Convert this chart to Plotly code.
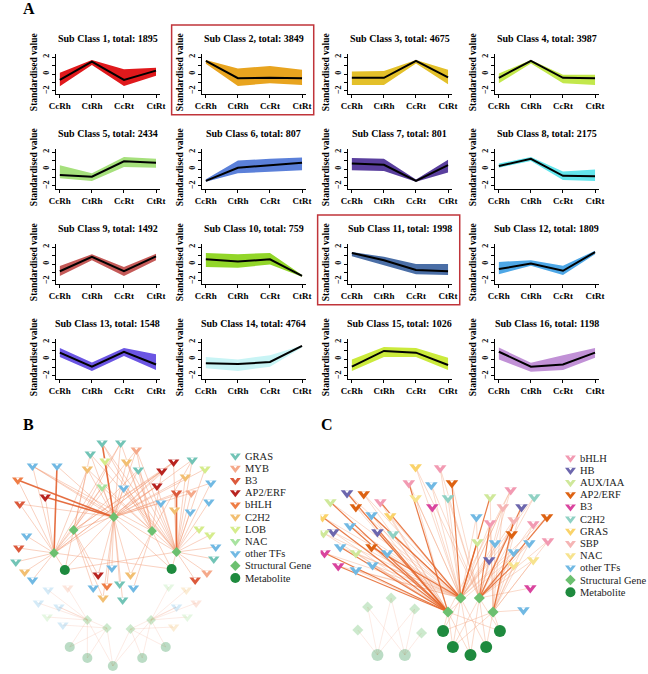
import plotly.graph_objects as go

# ======================= Panel A data =======================
stages = ["CcRh", "CtRh", "CcRt", "CtRt"]
class_totals = [1895, 3849, 4675, 3987, 2434, 807, 801, 2175,
                1492, 759, 1998, 1809, 1548, 4764, 1026, 1198]
class_colors = ["#e0191c", "#e8a41f", "#e3c02a", "#c3e84c",
                "#a6e07c", "#5b80d9", "#5a3f9e", "#63e5ec",
                "#c55a58", "#92d629", "#4a6ea6", "#4ea7e6",
                "#6b55e3", "#c8f4f5", "#cbea3c", "#c191d6"]
class_mean = [
    [-0.7, 1.45, -0.7, 0.4], [1.55, -0.5, -0.45, -0.5], [-0.45, -0.45, 1.55, -0.4], [-0.45, 1.55, -0.45, -0.5],
    [-0.7, -0.9, 0.9, 0.75], [-1.4, 0.15, 0.45, 0.75], [0.65, 0.5, -1.4, 0.45], [0.35, 1.2, -0.8, -0.85],
    [-0.85, 0.85, -0.85, 0.9], [0.55, 0.3, 0.55, -1.4], [1.3, 0.45, -0.7, -0.85], [-0.6, 0.05, -0.8, 1.4],
    [0.75, -0.9, 0.85, -0.65], [-0.5, -0.6, -0.35, 1.55], [-0.9, 0.95, 0.75, -0.7], [0.85, -0.9, -0.65, 0.75],
]
class_upper = [
    [0.15, 1.65, 0.55, 0.75], [1.65, 0.65, 0.95, 0.5], [0.3, 0.35, 1.65, 0.5], [0.05, 1.65, -0.1, -0.1],
    [0.45, -0.5, 1.4, 1.2], [-1.2, 1.0, 1.2, 1.35], [1.3, 1.2, -1.25, 1.1], [0.65, 1.4, -0.3, -0.05],
    [-0.25, 1.15, -0.35, 1.2], [1.3, 1.15, 1.3, -1.3], [1.4, 0.85, 0.0, 0.0], [0.25, 0.45, -0.2, 1.55],
    [1.3, -0.4, 1.3, 0.55], [0.25, -0.05, 0.45, 1.6], [-0.05, 1.4, 1.3, 0.15], [1.35, -0.45, 0.45, 1.3],
]
class_lower = [
    [-1.45, 1.05, -1.4, -0.2], [1.2, -1.4, -1.1, -1.3], [-1.3, -1.3, 1.25, -1.2], [-1.1, 1.25, -1.1, -1.3],
    [-1.1, -1.4, 0.25, 0.15], [-1.5, -0.5, -0.35, -0.15], [-0.15, -0.25, -1.5, -0.4], [0.15, 0.95, -1.3, -1.4],
    [-1.4, 0.45, -1.4, 0.45], [-0.35, -0.45, -0.05, -1.5], [0.9, -0.15, -1.2, -1.3], [-1.2, -0.2, -1.3, 1.15],
    [0.25, -1.4, 0.35, -1.3], [-1.1, -1.4, -0.9, 1.35], [-1.4, 0.25, 0.25, -1.3], [-0.05, -1.5, -1.3, 0.15],
]
boxed_classes = [2, 11]

# ======================= Panel B data =======================
b_categories = ["GRAS", "MYB", "B3", "AP2/ERF", "bHLH", "C2H2", "LOB", "NAC", "other TFs"]
b_cat_colors = ["#72c4b6", "#f5a98a", "#dc5a3c", "#b8231f", "#ef7d45", "#f2bf72", "#d5ec8c", "#a8e3a0", "#71b9e3"]
b_tf_x = [97, 116, 85, 132, 100, 82, 122, 134, 26, 51, 11, 13, 39, 97, 119, 158, 170, 153, 173, 189,
          202, 182, 208, 188, 157, 171, 187, 206, 196, 207, 213, 211, 204, 192, 20, 12, 9, 18, 26, 93,
          107, 126, 102, 88, 115, 129, 98, 118,
          42, 62, 32, 53, 41, 57, 165, 183, 173, 193, 184, 170]
b_tf_y = [3, 3, 14, 10, 21, 29, 22, 30, 26, 26, 40, 64, 57, 47, 48, 31, 22, 46, 53, 20,
          29, 37, 43, 53, 63, 70, 72, 62, 89, 95, 107, 119, 133, 140, 96, 108, 122, 132, 140, 135,
          128, 135, 146, 148, 144, 148, 158, 160,
          150, 148, 163, 167, 177, 185, 147, 150, 167, 163, 177, 187]
b_tf_cat = ["GRAS", "GRAS", "GRAS", "MYB", "LOB", "C2H2", "C2H2", "GRAS", "other TFs", "other TFs",
            "bHLH", "B3", "AP2/ERF", "NAC", "other TFs", "AP2/ERF", "AP2/ERF", "AP2/ERF", "B3", "GRAS",
            "LOB", "C2H2", "other TFs", "MYB", "other TFs", "C2H2", "other TFs", "other TFs", "LOB", "LOB",
            "other TFs", "GRAS", "MYB", "B3", "other TFs", "B3", "GRAS", "C2H2", "other TFs", "AP2/ERF",
            "other TFs", "C2H2", "bHLH", "other TFs", "GRAS", "other TFs", "C2H2", "GRAS",
            "other TFs", "MYB", "other TFs", "other TFs", "NAC", "other TFs", "NAC", "C2H2", "other TFs",
            "MYB", "NAC", "C2H2"]
b_tf_links = ["34", "0123", "124", "0234", "24", "0123", "234", "0234", "0234", "2",
              "0", "02", "0", "0124", "234", "0123", "0124", "024", "2", "234",
              "24", "24", "14", "24", "24", "4", "4", "4", "4", "4",
              "4", "4", "4", "4", "0", "0", "0", "0", "0", "12",
              "2", "23", "2", "1", "2", "3", "12", "2",
              "5", "5", "5", "56", "5", "6", "8", "8", "78", "8", "8", "7"]
b_tf_strong = ["2", "", "", "", "", "", "", "", "", "0",
               "2", "", "2", "", "", "", "", "", "4", "",
               "", "", "", "", "", "", "", "", "", "",
               "", "", "", "", "", "", "", "", "", "",
               "", "", "", "", "", "", "", "",
               "", "", "", "", "", "", "", "", "", "", "", ""]
b_tf_faded = [0] * 48 + [1] * 12
b_gene_x = [48, 68, 109, 148, 173, 82, 102, 126, 147]
b_gene_y = [113, 90, 77, 91, 112, 180, 188, 189, 180]
b_gene_faded = [0, 0, 0, 0, 0, 1, 1, 1, 1]
b_met_x = [59, 168, 64, 82, 108, 138, 162]
b_met_y = [130, 129, 207, 218, 226, 218, 207]
b_met_faded = [0, 0, 1, 1, 1, 1, 1]
b_gene_met = [(0, 0), (1, 0), (2, 0), (2, 1), (3, 1), (4, 1), (0, 1), (4, 0),
              (5, 2), (5, 3), (6, 3), (6, 4), (7, 4), (7, 5), (8, 5), (8, 6), (6, 2), (7, 6), (5, 4), (8, 4)]

# ======================= Panel C data =======================
c_categories = ["bHLH", "HB", "AUX/IAA", "AP2/ERF", "B3", "C2H2", "GRAS", "SBP", "NAC", "other TFs"]
c_cat_colors = ["#f29ab2", "#6c66ad", "#cfe89a", "#dd6212", "#d9449e", "#8fd1c3", "#fad36a", "#f5b5b5", "#f7e38e", "#71b9e3"]
c_tf_x = [97, 122, 90, 113, 134, 97, 114, 130, 27, 44, 61, 10, 36, 52, 71, 30, 13, 58, 74, 2,
          3, 20, 52, 68, 4, 36, 18, 36, 53,
          173, 194, 186, 205, 218, 159, 173, 197, 217, 231, 195, 160, 178, 213, 232, 197, 172, 197, 217, 214, 207]
c_tf_y = [27, 28, 43, 45, 43, 58, 67, 58, 53, 54, 62, 62, 67, 75, 76, 86, 92, 92, 94, 77,
          93, 107, 107, 113, 113, 113, 126, 130, 125,
          57, 50, 67, 67, 57, 77, 83, 80, 84, 77, 94, 102, 103, 103, 101, 112, 120, 125, 120, 148, 170]
c_tf_cat = ["GRAS", "bHLH", "bHLH", "other TFs", "AP2/ERF", "NAC", "B3", "C2H2", "HB", "AP2/ERF",
            "bHLH", "AUX/IAA", "AP2/ERF", "other TFs", "GRAS", "other TFs", "HB", "HB", "C2H2", "GRAS",
            "AUX/IAA", "other TFs", "AP2/ERF", "other TFs", "B3", "AUX/IAA", "B3", "other TFs", "other TFs",
            "AUX/IAA", "bHLH", "SBP", "HB", "C2H2", "other TFs", "bHLH", "SBP", "bHLH", "AP2/ERF",
            "AP2/ERF", "AUX/IAA", "other TFs", "other TFs", "bHLH", "other TFs", "HB", "NAC", "NAC", "B3", "other TFs"]
c_tf_links = ["10", "01", "0", "01", "1", "02", "0", "01", "0", "20",
              "2", "0", "02", "2", "20", "0", "20", "0", "20", "0",
              "20", "0", "2", "02", "0", "20", "0", "02", "20",
              "3", "012", "130", "3", "01", "10", "03", "01", "13", "0",
              "30", "1", "03", "123", "13", "03", "10", "3", "13", "1", "3"]
c_tf_strong = ["", "", "2", "", "0", "", "", "", "2", "",
               "0", "2", "", "0", "", "2", "", "2", "", "2",
               "", "2", "0", "", "2", "", "2", "", "",
               "0", "", "", "1", "", "", "1", "3", "", "1",
               "", "0", "", "", "", "", "", "1", "", "", ""]
c_gene_x = [143, 162, 130, 176, 48, 72, 96, 38, 103]
c_gene_y = [158, 158, 172, 172, 167, 158, 169, 190, 193]
c_gene_faded = [0, 0, 0, 0, 1, 1, 1, 1, 1]
c_met_x = [125, 183, 135, 153, 169, 58, 86]
c_met_y = [191, 191, 207, 215, 207, 215, 215]
c_met_faded = [0, 0, 0, 0, 0, 1, 1]
c_gene_met = [(2, 0), (2, 2), (2, 3), (0, 2), (0, 3), (0, 4), (1, 3), (1, 4), (1, 1), (3, 1), (3, 4),
              (3, 2), (2, 1), (0, 0), (3, 0), (1, 2),
              (4, 5), (4, 6), (5, 6), (6, 5), (7, 5), (8, 6), (6, 6), (5, 5)]

# ======================= Figure =======================
W, H = 648, 674
SERIF = "Liberation Serif"


def pxx(x):
    return x / W


def pxy(y):
    return 1 - y / H


fig = go.Figure()
layout = {}
annotations = []
shapes = []

col_left = [50, 199, 348, 498]
row_top = [53.7, 148.7, 243.7, 338.7]
PW, PH = 106, 40.6
xs = [1, 2, 3, 4]
bold9 = dict(family=SERIF, size=9, color="black", weight="bold")
bold_title = dict(family=SERIF, size=10, color="black", weight="bold")
bold_ytitle = dict(family=SERIF, size=9.5, color="black", weight="bold")

for k in range(16):
    r, c = divmod(k, 4)
    n = k + 1
    xa, ya = ("x", "y") if n == 1 else (f"x{n}", f"y{n}")
    fig.add_trace(go.Scatter(x=xs + xs[::-1], y=class_upper[k] + class_lower[k][::-1],
                             fill="toself", fillcolor=class_colors[k], mode="lines",
                             line=dict(width=0, color=class_colors[k]),
                             xaxis=xa, yaxis=ya, hoverinfo="skip", showlegend=False))
    fig.add_trace(go.Scatter(x=xs, y=class_mean[k], mode="lines",
                             line=dict(color="black", width=2),
                             xaxis=xa, yaxis=ya, hoverinfo="skip", showlegend=False))
    x0, y0 = col_left[c], row_top[r]
    layout["xaxis" if n == 1 else f"xaxis{n}"] = dict(
        domain=[pxx(x0), pxx(x0 + PW)], range=[0.88, 4.12], anchor=ya,
        tickvals=xs, ticktext=stages, ticks="outside", ticklen=3, tickcolor="black",
        showline=True, linecolor="black", linewidth=1, showgrid=False, zeroline=False,
        tickfont=bold9, fixedrange=True)
    layout["yaxis" if n == 1 else f"yaxis{n}"] = dict(
        domain=[pxy(y0 + PH), pxy(y0)], range=[-2.39, 2.39], anchor=xa,
        tickvals=[-2, -1, 0, 1, 2], ticktext=["\u22122", "", "0", "", "2"], tickangle=-90,
        ticks="outside", ticklen=3, tickcolor="black",
        showline=True, linecolor="black", linewidth=1, showgrid=False, zeroline=False,
        tickfont=dict(family=SERIF, size=8, color="black", weight="bold"), fixedrange=True)
    annotations.append(dict(text=f"Sub Class {n}, total: {class_totals[k]}", x=pxx(x0 + PW / 2),
                            y=pxy(y0 - 15.5), xref="paper", yref="paper", showarrow=False,
                            font=bold_title, xanchor="center", yanchor="middle"))
    annotations.append(dict(text="Standardised value", x=pxx(x0 - 23), y=pxy(y0 + 18), xref="paper",
                            yref="paper", showarrow=False, textangle=-90, font=bold_ytitle,
                            xanchor="center", yanchor="middle"))
    if n in boxed_classes:
        shapes.append(dict(type="rect", xref="paper", yref="paper",
                           x0=pxx(x0 - 31), x1=pxx(x0 + PW + 8), y0=pxy(y0 - 28.7), y1=pxy(y0 + 61),
                           line=dict(color="#c0343a", width=1.5)))

for lab, lx, ly in [("A", 22, 9), ("B", 22, 425), ("C", 327, 425)]:
    annotations.append(dict(text=lab, x=pxx(lx), y=pxy(ly), xref="paper", yref="paper", showarrow=False,
                            font=dict(family=SERIF, size=16, color="black", weight="bold"),
                            xanchor="center", yanchor="middle"))

NOTCH = 0.36


def draw_network(xa, ya, cats, cat_colors, tfx, tfy, tfcat, links, strong, faded,
                 gx, gy, gfaded, mx, my, mfaded, gene_met, tf_size, gene_size, met_size,
                 light_col, strong_col, strong_w, leg_x, leg_y0):
    groups = {"faded": ([], []), "light": ([], []), "strong": ([], [])}
    for i in range(len(tfx)):
        for key, s in (("light", links[i]), ("strong", strong[i])):
            for ch in s:
                g = int(ch)
                grp = "faded" if (faded[i] or gfaded[g]) else key
                groups[grp][0].extend([tfx[i], gx[g], None])
                groups[grp][1].extend([tfy[i], gy[g], None])
    for g, m in gene_met:
        grp = "faded" if (gfaded[g] or mfaded[m]) else "light"
        groups[grp][0].extend([gx[g], mx[m], None])
        groups[grp][1].extend([gy[g], my[m], None])
    styles = {"faded": dict(color="rgba(240,150,120,0.28)", width=0.7),
              "light": dict(color=light_col, width=0.8),
              "strong": dict(color=strong_col, width=strong_w)}
    for key in ("faded", "light", "strong"):
        fig.add_trace(go.Scatter(x=groups[key][0], y=groups[key][1], mode="lines", line=styles[key],
                                 xaxis=xa, yaxis=ya, hoverinfo="skip", showlegend=False))
    for fade in (1, 0):
        for ci, cat in enumerate(cats):
            idx = [i for i in range(len(tfx)) if tfcat[i] == cat and faded[i] == fade]
            if not idx:
                continue
            fig.add_trace(go.Scatter(x=[tfx[i] for i in idx], y=[tfy[i] for i in idx], mode="markers",
                                     marker=dict(symbol="triangle-down", size=tf_size, color=cat_colors[ci],
                                                 opacity=0.3 if fade else 1, line=dict(width=0)),
                                     xaxis=xa, yaxis=ya, hoverinfo="skip", showlegend=False))
    notch = tf_size * NOTCH
    off = tf_size / 4 - notch / 4
    fig.add_trace(go.Scatter(x=tfx, y=[v - off for v in tfy], mode="markers",
                             marker=dict(symbol="triangle-down", size=notch, color="white", line=dict(width=0)),
                             xaxis=xa, yaxis=ya, hoverinfo="skip", showlegend=False))
    for fade in (1, 0):
        gi = [i for i in range(len(gx)) if gfaded[i] == fade]
        fig.add_trace(go.Scatter(x=[gx[i] for i in gi], y=[gy[i] for i in gi], mode="markers",
                                 marker=dict(symbol="diamond", size=gene_size, color="#6cc070",
                                             opacity=0.35 if fade else 1, line=dict(width=0)),
                                 xaxis=xa, yaxis=ya, hoverinfo="skip", showlegend=False))
        mi = [i for i in range(len(mx)) if mfaded[i] == fade]
        fig.add_trace(go.Scatter(x=[mx[i] for i in mi], y=[my[i] for i in mi], mode="markers",
                                 marker=dict(symbol="circle", size=met_size, color="#1e8a3e",
                                             opacity=0.3 if fade else 1, line=dict(width=0)),
                                 xaxis=xa, yaxis=ya, hoverinfo="skip", showlegend=False))
    labels = cats + ["Structural Gene", "Metabolite"]
    step = 12.2
    for i, lab in enumerate(labels):
        yy = leg_y0 + i * step
        if i < len(cats):
            sym, col, sz = "triangle-down", cat_colors[i], 9.5
        elif lab == "Structural Gene":
            sym, col, sz = "diamond", "#6cc070", 8
        else:
            sym, col, sz = "circle", "#1e8a3e", 10
        fig.add_trace(go.Scatter(x=[leg_x], y=[yy], mode="markers",
                                 marker=dict(symbol=sym, size=sz, color=col, line=dict(width=0)),
                                 xaxis=xa, yaxis=ya, hoverinfo="skip", showlegend=False))
        if i < len(cats):
            fig.add_trace(go.Scatter(x=[leg_x], y=[yy - (sz / 4 - sz * NOTCH / 4)], mode="markers",
                                     marker=dict(symbol="triangle-down", size=sz * NOTCH, color="white",
                                                 line=dict(width=0)),
                                     xaxis=xa, yaxis=ya, hoverinfo="skip", showlegend=False))
        annotations.append(dict(text=lab, x=leg_x + 8, y=yy, xref=xa, yref=ya, showarrow=False,
                                xanchor="left", yanchor="middle",
                                font=dict(family=SERIF, size=10.5, color="#222222")))


layout["xaxis17"] = dict(domain=[0, pxx(320)], range=[0, 320], visible=False, fixedrange=True, anchor="y17")
layout["yaxis17"] = dict(domain=[0, pxy(440)], range=[234, 0], visible=False, fixedrange=True, anchor="x17")
layout["xaxis18"] = dict(domain=[pxx(320), 1], range=[0, 328], visible=False, fixedrange=True, anchor="y18")
layout["yaxis18"] = dict(domain=[0, pxy(440)], range=[234, 0], visible=False, fixedrange=True, anchor="x18")

draw_network("x17", "y17", b_categories, b_cat_colors, b_tf_x, b_tf_y, b_tf_cat, b_tf_links, b_tf_strong,
             b_tf_faded, b_gene_x, b_gene_y, b_gene_faded, b_met_x, b_met_y, b_met_faded, b_gene_met,
             10, 7.5, 10, "rgba(241,150,110,0.55)", "rgba(226,95,45,0.9)", 1.6, 233, 16)
draw_network("x18", "y18", c_categories, c_cat_colors, c_tf_x, c_tf_y, c_tf_cat, c_tf_links, c_tf_strong,
             [0] * len(c_tf_x), c_gene_x, c_gene_y, c_gene_faded, c_met_x, c_met_y, c_met_faded, c_gene_met,
             11, 8.5, 12, "rgba(241,150,110,0.45)", "rgba(228,100,40,0.85)", 1.2, 255, 18)

fig.update_layout(width=W, height=H, margin=dict(l=0, r=0, t=0, b=0),
                  paper_bgcolor="white", plot_bgcolor="rgba(0,0,0,0)",
                  showlegend=False, annotations=annotations, shapes=shapes, **layout)
fig.write_html("out.html")
